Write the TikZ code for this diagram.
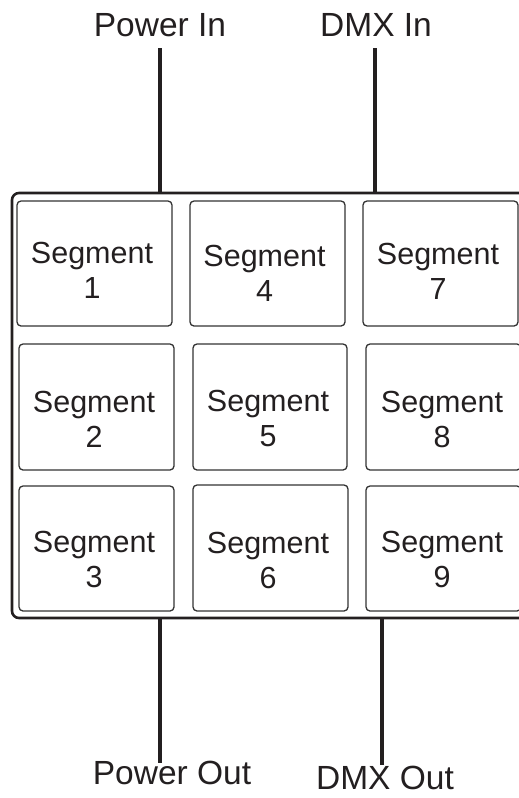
\documentclass[tikz,border=0pt]{standalone}
\usepackage{fontspec}
\setmainfont{Liberation Sans}
\definecolor{ink}{HTML}{231F20}
\definecolor{boxline}{HTML}{333333}
\begin{document}
\begin{tikzpicture}[x=1pt,y=-1pt,
  segbox/.style={draw=boxline,line width=1.3pt,rounded corners=4pt,inner sep=0pt},
  segtext/.style={text=ink,align=center,inner sep=0pt,font=\fontsize{30.5}{35}\selectfont},
  iolabel/.style={text=ink,inner sep=0pt,font=\fontsize{33.5}{38}\selectfont},
  frame/.style={draw=ink,line width=2.6pt,rounded corners=7pt},
  wire/.style={draw=ink,line width=3.2pt}]
\useasboundingbox (0,0) rectangle (519,798);
% outer frame
\draw[frame] (522,193) -- (12,193) -- (12,618) -- (522,618);
% segment boxes
\node[segbox,minimum width=155pt,minimum height=125pt] (b1) at (94.5,263.5) {};
\node[segbox,minimum width=155pt,minimum height=125pt] (b4) at (267.5,263.5) {};
\node[segbox,minimum width=155pt,minimum height=125pt] (b7) at (440.5,263.5) {};
\node[segbox,minimum width=155pt,minimum height=126pt] (b2) at (96.5,407) {};
\node[segbox,minimum width=154pt,minimum height=126pt] (b5) at (270,407) {};
\node[segbox,minimum width=155pt,minimum height=126pt] (b8) at (443.5,407) {};
\node[segbox,minimum width=155pt,minimum height=125pt] (b3) at (96.5,548.5) {};
\node[segbox,minimum width=155pt,minimum height=126pt] (b6) at (270.5,548) {};
\node[segbox,minimum width=155pt,minimum height=125pt] (b9) at (443.5,548.5) {};
% segment texts
\node[segtext] (t1) at (92,270) {Segment\\1};
\node[segtext] (t4) at (264.5,273.5) {Segment\\4};
\node[segtext] (t7) at (438,271.5) {Segment\\7};
\node[segtext] (t2) at (94,419.5) {Segment\\2};
\node[segtext] (t5) at (268,418) {Segment\\5};
\node[segtext] (t8) at (442,419) {Segment\\8};
\node[segtext] (t3) at (94,559) {Segment\\3};
\node[segtext] (t6) at (268,560) {Segment\\6};
\node[segtext] (t9) at (442,559) {Segment\\9};
% labels
\node[iolabel] (pin) at (160,25) {Power In};
\node[iolabel] (din) at (376,25) {DMX In};
\node[iolabel] (pout) at (172,773) {Power Out};
\node[iolabel] (dout) at (385,778) {DMX Out};
% wire ends
\coordinate (pinA) at (160,48);
\coordinate (pinB) at (160,193);
\coordinate (dinA) at (375,48);
\coordinate (dinB) at (375,193);
\coordinate (poutA) at (160,618);
\coordinate (poutB) at (160,763);
\coordinate (doutA) at (382,618);
\coordinate (doutB) at (382,765);
\draw[wire] (pinA) -- (pinB);
\draw[wire] (dinA) -- (dinB);
\draw[wire] (poutA) -- (poutB);
\draw[wire] (doutA) -- (doutB);
\end{tikzpicture}
\end{document}
